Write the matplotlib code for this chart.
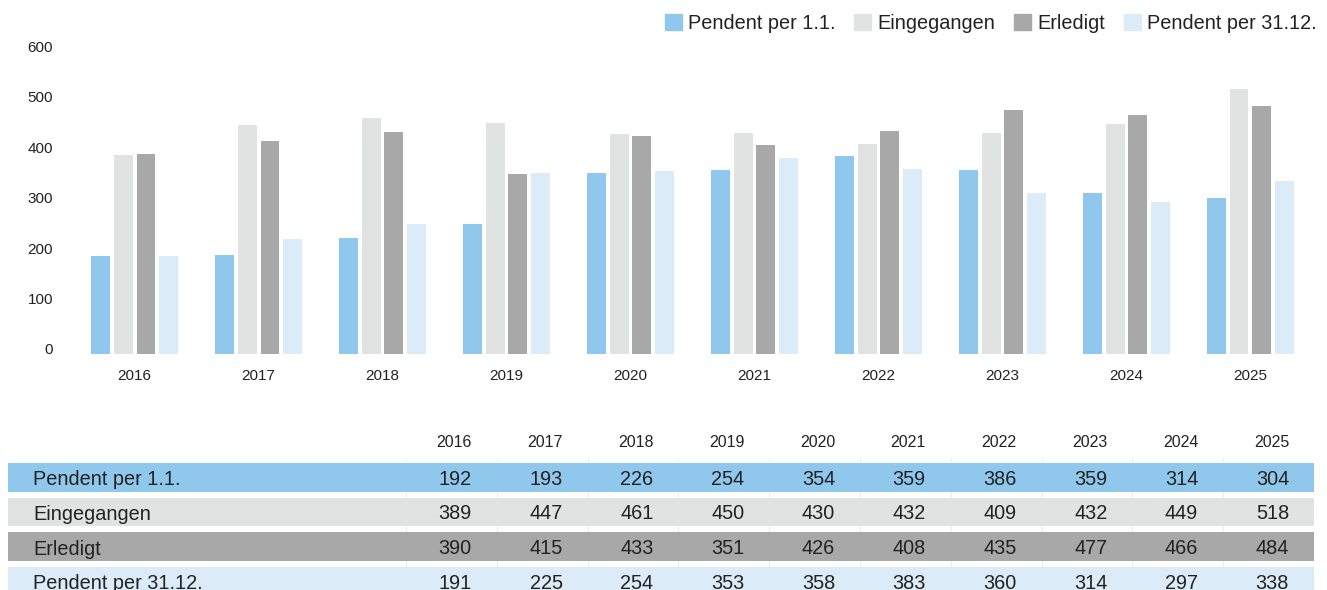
import numpy as np
import matplotlib
matplotlib.use("Agg")
import matplotlib.pyplot as plt
import matplotlib.transforms as mtransforms
from matplotlib.patches import Patch

plt.rcParams['font.family'] = ['Liberation Sans', 'DejaVu Sans']

years = ['2016', '2017', '2018', '2019', '2020', '2021', '2022', '2023', '2024', '2025']
series_names = ['Pendent per 1.1.', 'Eingegangen', 'Erledigt', 'Pendent per 31.12.']
pendent_start = [192, 193, 226, 254, 354, 359, 386, 359, 314, 304]
eingegangen = [389, 447, 461, 450, 430, 432, 409, 432, 449, 518]
erledigt = [390, 415, 433, 351, 426, 408, 435, 477, 466, 484]
pendent_end = [191, 225, 254, 353, 358, 383, 360, 314, 297, 338]
colors = ['#8FC8EC', '#E1E2E2', '#A7A8A7', '#DCEBF8']
text_col = '#222222'

W, H = 1327, 590
fig = plt.figure(figsize=(W / 100, H / 100), dpi=100)

# ---- bar chart ----
ax = fig.add_axes([60 / W, (H - 354) / H, (1310 - 60) / W, (354 - 46.5) / H])
x = np.arange(len(years))
step, bw = 0.185, 0.153
data = [pendent_start, eingegangen, erledigt, pendent_end]
for k, vals in enumerate(data):
    ax.bar(x + (k - 1.5) * step, vals, width=bw, color=colors[k], label=series_names[k])

ax.set_xlim(-0.601, 9.48)
ax.set_ylim(0, 600)
yticks = list(range(0, 601, 100))
ax.set_yticks(yticks)
ax.set_xticks(x)
ax.set_xticklabels(years)
for s in ax.spines.values():
    s.set_visible(False)
ax.tick_params(axis='y', length=0, pad=5, labelsize=11, labelcolor=text_col)
ax.tick_params(axis='x', length=0, pad=11, labelsize=11, labelcolor=text_col)
# labels sit a little above their values towards the bottom
for v, lbl in zip(yticks, ax.get_yticklabels()):
    off = mtransforms.ScaledTranslation(0, 5 * (1 - v / 600) / 100, fig.dpi_scale_trans)
    lbl.set_transform(lbl.get_transform() + off)

handles = [Patch(color=c) for c in colors]
fig.legend(handles, series_names, loc='upper right', bbox_to_anchor=(1325 / W, 1.0 - 6 / H),
           ncol=4, frameon=False, fontsize=14.3, handlelength=0.85, handleheight=0.85,
           handletextpad=0.32, columnspacing=0.95, borderaxespad=0, labelcolor=text_col)

# ---- table ----
tx0, tx1, ty0, ty1 = 8, 1314, 420, 590
tab = fig.add_axes([tx0 / W, (H - ty1) / H, (tx1 - tx0) / W, (ty1 - ty0) / H])
tab.axis('off')
colw = 90.8
left = -398 / colw
rowh = 34.6
tab.set_xlim(left, 10)
tab.set_ylim((ty1 - 477.5) / rowh, (ty0 - 477.5) / rowh)

# faint column separators
for j in range(10):
    tab.plot([j, j], [-0.55, 3.3], color='#ececec', lw=0.7, zorder=0)

rows = np.arange(4)
tab.barh(rows, [10 - left] * 4, left=left, height=0.83, color=colors, zorder=1)

for j, yr in enumerate(years):
    tab.text(j + 0.725, -1.0, yr, ha='right', va='center', fontsize=11.5, color=text_col)
for r, (name, vals) in enumerate(zip(series_names, data)):
    tab.text(left + 25 / colw, r + 0.07, name, ha='left', va='center', fontsize=14.3,
             color=text_col, zorder=2)
    for j, v in enumerate(vals):
        tab.text(j + 0.725, r + 0.05, str(v), ha='right', va='center', fontsize=14.3,
                 color=text_col, zorder=2)

fig.savefig('out.png', dpi=100)
